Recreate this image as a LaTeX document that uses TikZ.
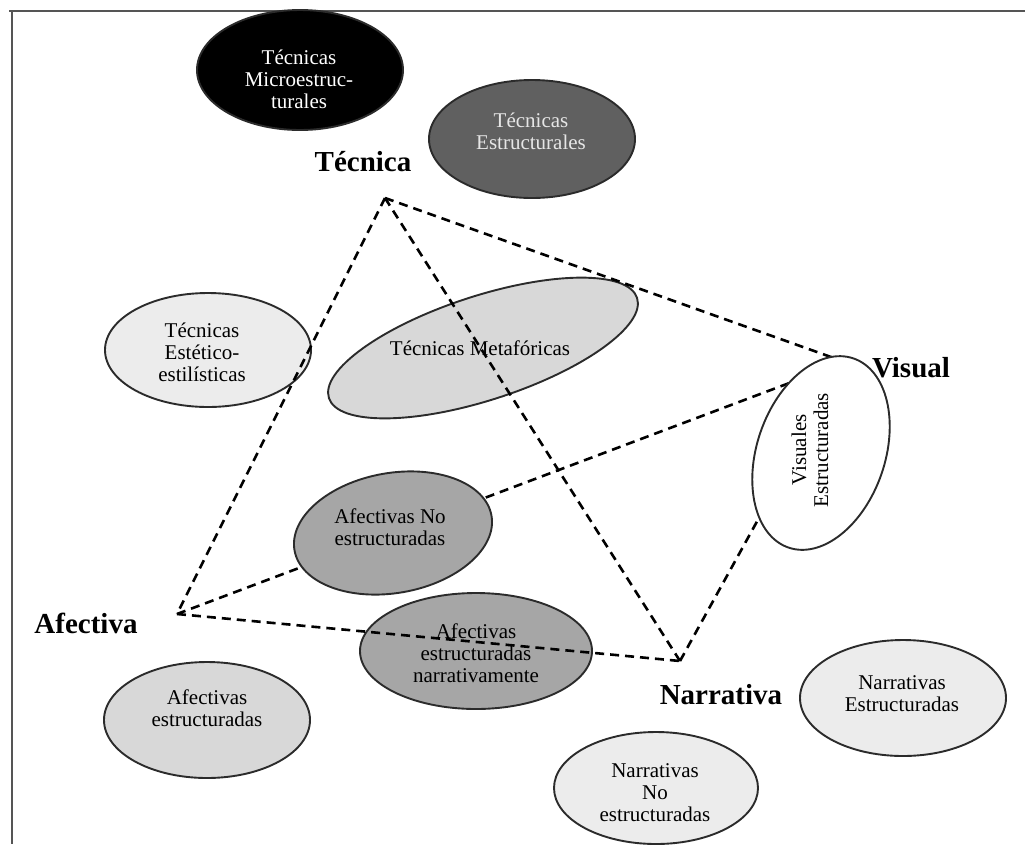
\documentclass[tikz,border=0pt]{standalone}
\usepackage{fontspec}
\setmainfont{Liberation Serif}
\usetikzlibrary{shapes.geometric}
\definecolor{edgecol}{HTML}{2B2B2B}
\definecolor{framecol}{HTML}{555555}
\definecolor{fillA}{HTML}{606060}
\definecolor{fillB}{HTML}{ECECEC}
\definecolor{fillC}{HTML}{D8D8D8}
\definecolor{fillD}{HTML}{A6A6A6}
\definecolor{textB}{HTML}{E6E6E6}
\begin{document}
\begin{tikzpicture}[x=1pt,y=-1pt,
  ell/.style={ellipse, draw=edgecol, line width=1.9pt, inner sep=0pt, outer sep=0pt},
  txt/.style={align=center, font=\fontsize{21}{22}\selectfont, inner sep=0pt},
  big/.style={font=\fontsize{29}{32}\selectfont\bfseries, inner sep=0pt},
  dashedline/.style={line width=2.6pt, dash pattern=on 9pt off 6pt, black}]
\useasboundingbox (0,0) rectangle (1025,844);
% frame
\coordinate (f1) at (9,11);
\coordinate (f2) at (1025,11);
\coordinate (f3) at (12,11);
\coordinate (f4) at (12,844);
\draw[framecol, line width=1.8pt] (f1) -- (f2);
\draw[framecol, line width=1.8pt] (f3) -- (f4);
% vertices
\coordinate (T) at (385,198);
\coordinate (A) at (177,614);
\coordinate (N) at (680,661);
\coordinate (V) at (845,362);
% ellipses below the lines
\node[ell, fill=black, minimum width=206pt, minimum height=120pt] (e1) at (300,70) {};
\node[txt, text=white] (t1) at (299,79) {Técnicas\\Microestruc-\\turales};
\node[ell, fill=fillA, minimum width=206pt, minimum height=118pt] (e2) at (532,139) {};
\node[txt, text=textB] (t2) at (531,131) {Técnicas\\Estructurales};
\node[ell, fill=fillB, minimum width=206pt, minimum height=114pt] (e3) at (208,350) {};
\node[txt] (t3) at (202,352) {Técnicas\\Estético-\\estilísticas};
\node[ell, fill=fillC, minimum width=324pt, minimum height=104pt, rotate=18] (e4) at (483,348) {};
\node[txt] (t4) at (480,348) {Técnicas Metafóricas};
\node[ell, fill=fillD, minimum width=232pt, minimum height=116pt] (e7) at (476,651) {};
\node[txt] (t7) at (476,653) {Afectivas\\estructuradas\\narrativamente};
\node[ell, fill=fillC, minimum width=206pt, minimum height=116pt] (e8) at (207,720) {};
\node[txt] (t8) at (207,708) {Afectivas\\estructuradas};
\node[ell, fill=fillB, minimum width=206pt, minimum height=116pt] (e9) at (903,698) {};
\node[txt] (t9) at (902,694) {Narrativas\\Estructuradas};
\node[ell, fill=fillB, minimum width=204pt, minimum height=112pt] (e10) at (656,788) {};
\node[txt] (t10) at (655,793) {Narrativas\\No\\estructuradas};
% dashed connectors
\draw[dashedline] (T) -- (A);
\draw[dashedline] (T) -- (N);
\draw[dashedline] (T) -- (V);
\draw[dashedline] (A) -- (V);
\draw[dashedline] (A) -- (N);
\draw[dashedline] (N) -- (V);
% ellipses above the lines
\node[ell, fill=white, minimum width=128pt, minimum height=200pt, rotate=-19] (e5) at (821,453) {};
\node[txt, rotate=90] (t5) at (810,450) {Visuales\\Estructuradas};
\node[ell, fill=fillD, minimum width=200pt, minimum height=120pt, rotate=10] (e6) at (393,533) {};
\node[txt] (t6) at (390,527) {Afectivas No\\estructuradas};
% pole labels
\node[big] (lT) at (363,162) {Técnica};
\node[big] (lV) at (911,368) {Visual};
\node[big] (lA) at (86,623) {Afectiva};
\node[big] (lN) at (721,695) {Narrativa};
\end{tikzpicture}
\end{document}
